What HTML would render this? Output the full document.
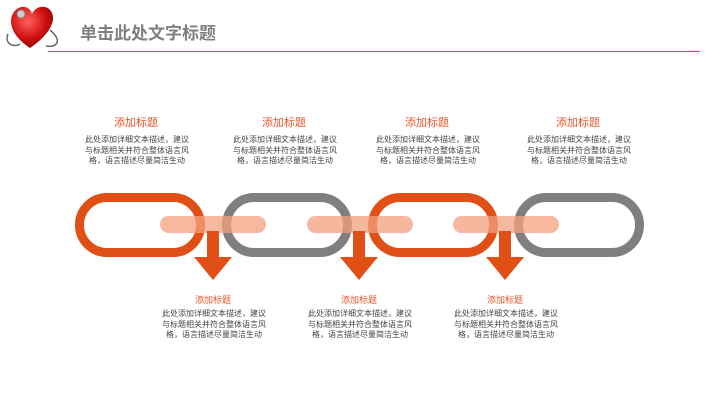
<!DOCTYPE html>
<html><head><meta charset="utf-8"><style>
body{margin:0;width:721px;height:405px;background:#fff;position:relative;overflow:hidden;font-family:"Liberation Sans","Noto Sans CJK SC",sans-serif}
.t{position:absolute;width:130px;text-align:center;color:#e8572a}
.b{position:absolute;width:130px;text-align:center;color:#444;font-size:8px;line-height:10.5px;white-space:nowrap}
</style></head><body>
<svg width="721" height="405" style="position:absolute;left:0;top:0">
<defs><radialGradient id="h" cx="0.4" cy="0.35" r="0.7"><stop offset="0" stop-color="#ff6060"/><stop offset="0.6" stop-color="#d01010"/><stop offset="1" stop-color="#8a0000"/></radialGradient></defs>
<path d="M30 48 C10 35 8 20 14 12 C20 4 30 6 32 14 C36 5 48 4 52 13 C56 22 48 36 30 48Z" fill="url(#h)"/>
<path d="M8 34 C4 44 14 48 20 44 M50 30 C62 40 58 48 46 46" stroke="#666" stroke-width="1.5" fill="none"/>
<circle cx="21" cy="14" r="4" fill="#ccc" stroke="#888"/>
<line x1="48" y1="51.5" x2="700" y2="51.5" stroke="#e9457a" stroke-width="1.2"/>
<g fill="none" stroke-width="9">
<rect x="79.5" y="197.5" width="121" height="55" rx="27.5" stroke="#e04f16"/>
<rect x="226.5" y="197.5" width="121" height="55" rx="27.5" stroke="#7f7f7f"/>
<rect x="372.5" y="197.5" width="121" height="55" rx="27.5" stroke="#e04f16"/>
<rect x="518.5" y="197.5" width="121" height="55" rx="27.5" stroke="#7f7f7f"/>
</g>
<g fill="#f4a07f" opacity="0.75">
<rect x="160" y="216" width="106" height="17" rx="8.5"/>
<rect x="307" y="216" width="106" height="17" rx="8.5"/>
<rect x="453" y="216" width="106" height="17" rx="8.5"/>
</g>
<g fill="#e04f16">
<path d="M207 231h12v26h13l-19 23-19-23h13z"/>
<path d="M353 231h12v26h13l-19 23-19-23h13z"/>
<path d="M499 231h12v26h13l-19 23-19-23h13z"/>
</g>
</svg>
<div style="position:absolute;left:80px;top:19px;font-size:17px;font-weight:bold;color:#7f7f7f">单击此处文字标题</div>

<div class="t" style="left:71px;top:114px;font-size:11px">添加标题</div>
<div class="b" style="left:72px;top:135px">此处添加详细文本描述，建议<br>与标题相关并符合整体语言风<br>格，语言描述尽量简洁生动</div>
<div class="t" style="left:219px;top:114px;font-size:11px">添加标题</div>
<div class="b" style="left:220px;top:135px">此处添加详细文本描述，建议<br>与标题相关并符合整体语言风<br>格，语言描述尽量简洁生动</div>
<div class="t" style="left:362px;top:114px;font-size:11px">添加标题</div>
<div class="b" style="left:363px;top:135px">此处添加详细文本描述，建议<br>与标题相关并符合整体语言风<br>格，语言描述尽量简洁生动</div>
<div class="t" style="left:513px;top:114px;font-size:11px">添加标题</div>
<div class="b" style="left:514px;top:135px">此处添加详细文本描述，建议<br>与标题相关并符合整体语言风<br>格，语言描述尽量简洁生动</div>

<div class="t" style="left:148px;top:293px;font-size:9px">添加标题</div>
<div class="b" style="left:149px;top:309px">此处添加详细文本描述，建议<br>与标题相关并符合整体语言风<br>格，语言描述尽量简洁生动</div>
<div class="t" style="left:294px;top:293px;font-size:9px">添加标题</div>
<div class="b" style="left:295px;top:309px">此处添加详细文本描述，建议<br>与标题相关并符合整体语言风<br>格，语言描述尽量简洁生动</div>
<div class="t" style="left:440px;top:293px;font-size:9px">添加标题</div>
<div class="b" style="left:441px;top:309px">此处添加详细文本描述，建议<br>与标题相关并符合整体语言风<br>格，语言描述尽量简洁生动</div>
</body></html>
